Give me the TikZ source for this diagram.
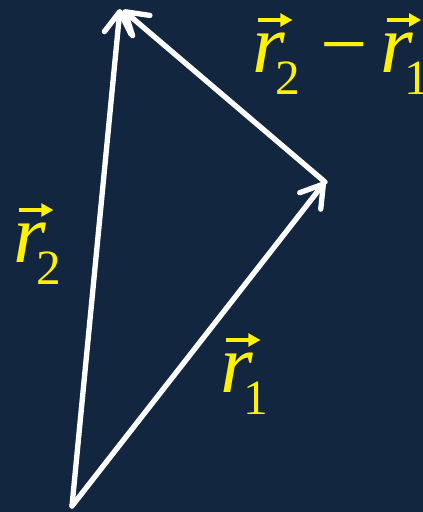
\documentclass[tikz,border=0pt]{standalone}
\usepackage{fontspec}
\setmainfont{Liberation Serif}
\usetikzlibrary{arrows.meta}
\definecolor{bg}{HTML}{122640}
\newcommand\vecr[1]{\rlap{\hspace{3pt}\raisebox{39pt}{\tikz[baseline=0pt]\draw[yellow,line width=2.3pt,-{Triangle[length=9pt,width=9.5pt]}] (0,0)--(26pt,0);}}{\itshape r}\kern-7pt\raisebox{-17pt}{\fontsize{37pt}{40pt}\selectfont #1}}
\begin{document}
\begin{tikzpicture}[x=0.75pt,y=-0.75pt,
  vec/.style={draw=white,line width=4pt,line cap=round,-{Straight Barb[length=16pt,width=20pt,round]}},
  lab/.style={text=yellow,font=\fontsize{63pt}{66pt}\selectfont,inner sep=0pt,anchor=base west}]
\clip (0,0) rectangle (423,512);
\fill[bg] (0,0) rectangle (423,512);
\coordinate (O) at (72,506);
\coordinate (A) at (325,182);
\coordinate (B) at (120,9);
\coordinate (C) at (123,10);
\draw[vec] (O) -- (A);
\draw[vec] (O) -- (B);
\draw[vec] (A) -- (C);
\node[lab] (l1) at (220,392) {\vecr{1}};
\node[lab] (l2) at (13,262) {\vecr{2}};
\node[lab] (l3) at (252,72) {\vecr{2}\hspace{15pt}−\hspace{10pt}\vecr{1}};
\end{tikzpicture}
\end{document}
